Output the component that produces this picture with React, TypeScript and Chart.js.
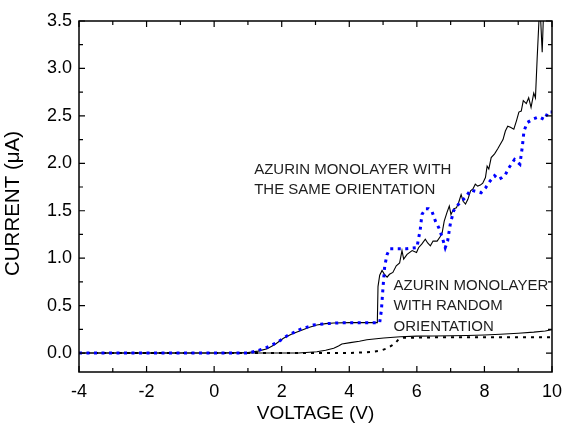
import React, { useEffect, useRef } from 'react';
import { Chart, registerables } from 'chart.js';

Chart.register(...registerables);

// Azurin monolayer, same orientation: measured (solid black)
const sameV = [-4, 0, 1.0, 1.3, 1.57, 1.8, 2.05, 2.3, 2.55, 2.8, 3.04, 3.3, 3.54, 4.0, 4.5, 4.8, 4.83, 4.85, 4.9, 4.97, 5.04, 5.12, 5.19, 5.29, 5.39, 5.49, 5.56, 5.61, 5.71, 5.86, 5.99, 6.05, 6.15, 6.25, 6.32, 6.4, 6.48, 6.6, 6.7, 6.75, 6.81, 6.89, 6.96, 7.01, 7.09, 7.17, 7.24, 7.31, 7.37, 7.44, 7.51, 7.59, 7.66, 7.73, 7.8, 7.88, 7.95, 8.03, 8.08, 8.13, 8.2, 8.3, 8.39, 8.47, 8.55, 8.62, 8.69, 8.77, 8.87, 8.95, 9.02, 9.09, 9.15, 9.24, 9.31, 9.38, 9.46, 9.51, 9.56, 9.64, 9.71, 9.76, 9.85, 10];
const sameI = [0, 0, 0.005, 0.02, 0.045, 0.09, 0.155, 0.2, 0.235, 0.27, 0.295, 0.31, 0.316, 0.32, 0.32, 0.32, 0.32, 0.7, 0.82, 0.87, 0.83, 0.8, 0.83, 0.85, 0.92, 0.95, 1.08, 0.99, 1.04, 1.08, 1.06, 1.11, 1.15, 1.2, 1.16, 1.13, 1.18, 1.18, 1.23, 1.27, 1.39, 1.48, 1.55, 1.46, 1.52, 1.53, 1.59, 1.67, 1.6, 1.57, 1.62, 1.71, 1.73, 1.78, 1.76, 1.77, 1.79, 1.85, 1.97, 1.94, 2.06, 2.1, 2.15, 2.2, 2.25, 2.34, 2.39, 2.38, 2.36, 2.45, 2.54, 2.55, 2.66, 2.63, 2.69, 2.59, 2.74, 2.69, 3.1, 3.7, 3.17, 3.7, 3.9, 4.0];

// Azurin monolayer, same orientation: model (blue dotted)
const sameFitV = [-4, 1.0, 1.3, 1.56, 1.86, 2.15, 2.55, 2.94, 3.34, 3.8, 4.5, 4.9, 4.95, 5.0, 5.05, 5.12, 5.2, 5.4, 5.7, 6.0, 6.1, 6.15, 6.25, 6.35, 6.45, 6.55, 6.65, 6.75, 6.84, 6.91, 6.99, 7.09, 7.19, 7.29, 7.44, 7.59, 7.68, 7.8, 7.9, 8.03, 8.16, 8.3, 8.42, 8.52, 8.62, 8.72, 8.89, 9.05, 9.12, 9.17, 9.27, 9.46, 9.61, 9.78, 9.88, 10];
const sameFitI = [0, 0, 0.025, 0.06, 0.11, 0.18, 0.25, 0.295, 0.31, 0.32, 0.32, 0.32, 0.45, 0.7, 0.92, 1.04, 1.1, 1.1, 1.1, 1.11, 1.3, 1.46, 1.52, 1.52, 1.49, 1.39, 1.32, 1.22, 1.11, 1.18, 1.36, 1.5, 1.55, 1.59, 1.64, 1.72, 1.71, 1.7, 1.69, 1.74, 1.81, 1.87, 1.83, 1.85, 1.88, 1.95, 2.04, 1.99, 2.17, 2.34, 2.43, 2.47, 2.49, 2.46, 2.54, 2.54];

// Azurin monolayer, random orientation: measured (solid black)
const randV = [-4, 2.5, 3.04, 3.3, 3.54, 3.68, 3.78, 4.03, 4.3, 4.52, 4.8, 5.02, 5.51, 6.0, 6.5, 7.0, 7.49, 8.0, 8.47, 9.0, 9.46, 9.8, 10];
const randI = [0, 0, 0.014, 0.03, 0.05, 0.075, 0.095, 0.11, 0.125, 0.14, 0.15, 0.158, 0.172, 0.178, 0.18, 0.182, 0.185, 0.19, 0.198, 0.208, 0.22, 0.232, 0.245];

// Azurin monolayer, random orientation: model (black dotted)
const randFitV = [-4, 4.0, 4.62, 4.92, 5.12, 5.26, 5.36, 5.46, 5.61, 6.5, 8.0, 10];
const randFitI = [0, 0, 0.01, 0.025, 0.05, 0.08, 0.105, 0.145, 0.16, 0.165, 0.165, 0.167];

const xTickValues = [-4, -2, 0, 2, 4, 6, 8, 10];
const yTickValues = [0, 0.5, 1.0, 1.5, 2.0, 2.5, 3.0, 3.5];

const xTitle = 'VOLTAGE (V)';
const yTitle = 'CURRENT (μA)';
const noteSame = ['AZURIN MONOLAYER WITH', 'THE SAME ORIENTATION'];
const noteRandom = ['AZURIN MONOLAYER', 'WITH RANDOM', 'ORIENTATION'];

const FONT = "'Liberation Sans', Arial, sans-serif";

function pts(xs: number[], ys: number[]) {
  return xs.map((v, i) => ({ x: v, y: ys[i] }));
}

const framePlugin = {
  id: 'frame',
  afterDatasetsDraw(chart: any) {
    const { ctx, chartArea, scales } = chart;
    const { left, right, top, bottom } = chartArea;
    const x = scales.x;
    const y = scales.y;
    ctx.save();
    ctx.strokeStyle = '#000';
    ctx.lineWidth = 1.5;
    ctx.strokeRect(left, top, right - left, bottom - top);
    ctx.lineWidth = 1.2;
    ctx.beginPath();
    for (let v = -4; v <= 10; v++) {
      const px = x.getPixelForValue(v);
      const len = v % 2 === 0 ? 6 : 4;
      ctx.moveTo(px, bottom);
      ctx.lineTo(px, bottom - len);
      ctx.moveTo(px, top);
      ctx.lineTo(px, top + len);
    }
    for (let k = 0; k <= 14; k++) {
      const py = y.getPixelForValue(k * 0.25);
      const len = k % 2 === 0 ? 6 : 4;
      ctx.moveTo(left, py);
      ctx.lineTo(left + len, py);
      ctx.moveTo(right, py);
      ctx.lineTo(right - len, py);
    }
    ctx.stroke();

    // annotations
    ctx.fillStyle = '#1e1e1e';
    ctx.font = `15px ${FONT}`;
    ctx.textAlign = 'left';
    ctx.textBaseline = 'middle';
    const sx = x.getPixelForValue(1.185);
    const sy = y.getPixelForValue(1.93);
    noteSame.forEach((t, i) => ctx.fillText(t, sx, sy + i * 20));
    const rx = x.getPixelForValue(5.31);
    const ry = y.getPixelForValue(0.708);
    noteRandom.forEach((t, i) => ctx.fillText(t, rx, ry + i * 20.3));

    // axis titles
    ctx.fillStyle = '#000';
    ctx.font = `19px ${FONT}`;
    ctx.textAlign = 'center';
    ctx.fillText(xTitle, (left + right) / 2, 414);
    ctx.translate(13, 203.5);
    ctx.rotate(-Math.PI / 2);
    ctx.font = `20.5px ${FONT}`;
    ctx.fillText(yTitle, 0, 0);
    ctx.restore();
  },
};

export default function App() {
  const ref = useRef<HTMLCanvasElement | null>(null);
  useEffect(() => {
    document.body.style.margin = '0';
    if (!ref.current) return;
    const chart = new Chart(ref.current, {
      type: 'line',
      data: {
        datasets: [
          {
            label: 'same orientation (model)',
            data: pts(sameFitV, sameFitI),
            borderColor: '#0000ff',
            borderWidth: 3,
            borderDash: [3, 4.5],
            pointRadius: 0,
            fill: false,
            tension: 0,
          },
          {
            label: 'random orientation (model)',
            data: pts(randFitV, randFitI),
            borderColor: '#000',
            borderWidth: 2,
            borderDash: [3, 5],
            pointRadius: 0,
            fill: false,
            tension: 0,
          },
          {
            label: 'same orientation',
            data: pts(sameV, sameI),
            borderColor: '#000',
            borderWidth: 1.1,
            pointRadius: 0,
            fill: false,
            tension: 0,
          },
          {
            label: 'random orientation',
            data: pts(randV, randI),
            borderColor: '#000',
            borderWidth: 1.1,
            pointRadius: 0,
            fill: false,
            tension: 0,
          },
        ],
      },
      options: {
        animation: false,
        responsive: true,
        maintainAspectRatio: false,
        layout: { padding: { top: 21, right: 12, left: 0, bottom: 0 } },
        plugins: { legend: { display: false }, tooltip: { enabled: false } },
        scales: {
          x: {
            type: 'linear',
            min: -4,
            max: 10,
            afterBuildTicks: (s: any) => {
              s.ticks = xTickValues.map((v) => ({ value: v }));
            },
            afterFit: (s: any) => {
              s.height = 58;
              s.paddingLeft = 0;
              s.paddingRight = 0;
            },
            grid: { display: false, drawTicks: false },
            border: { display: false },
            ticks: {
              color: '#000',
              font: { family: FONT, size: 18 },
              padding: 9,
              maxRotation: 0,
              callback: (v: any) => String(v),
            },
          },
          y: {
            type: 'linear',
            min: -0.2,
            max: 3.5,
            afterBuildTicks: (s: any) => {
              s.ticks = yTickValues.map((v) => ({ value: v }));
            },
            afterFit: (s: any) => {
              s.width = 79;
              s.paddingTop = 0;
              s.paddingBottom = 0;
            },
            grid: { display: false, drawTicks: false },
            border: { display: false },
            ticks: {
              color: '#000',
              font: { family: FONT, size: 18 },
              padding: 7,
              callback: (v: any) => Number(v).toFixed(1),
            },
          },
        },
      },
      plugins: [framePlugin],
    });
    return () => chart.destroy();
  }, []);
  return (
    <div style={{ position: 'fixed', left: 0, top: 0, width: 564, height: 430 }}>
      <canvas ref={ref} />
    </div>
  );
}
